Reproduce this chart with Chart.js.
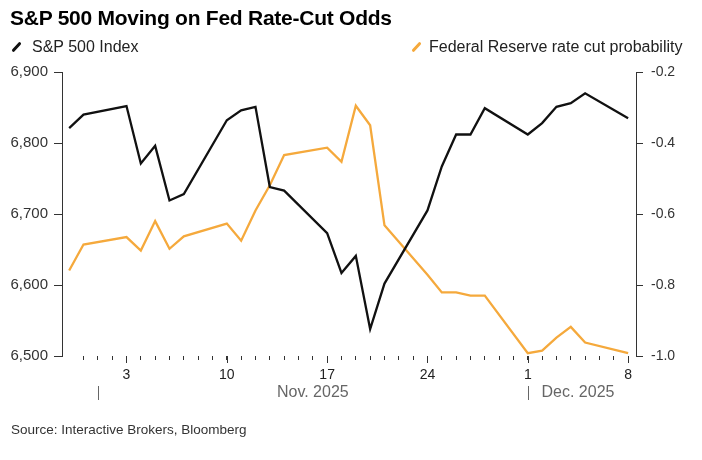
<!DOCTYPE html>
<html>
<head>
<meta charset="utf-8">
<script src="https://cdn.jsdelivr.net/npm/chart.js@4.4.1/dist/chart.umd.min.js"></script>
<style>
  body { margin: 0; background: #fff; font-family: "Liberation Sans", Arial, sans-serif; }
  #wrap { position: relative; width: 702px; height: 460px; overflow: hidden; }
  #chart { position: absolute; left: 0; top: 0; }
  .title { position: absolute; left: 10px; top: 6px; font-size: 21px; font-weight: bold; letter-spacing: -0.25px; color: #000; }
  .leg { position: absolute; top: 38px; font-size: 16px; color: #222; }
  .slash { position: absolute; width: 3px; height: 12px; transform: rotate(42deg); border-radius: 1.5px; }
  .source { position: absolute; left: 11px; top: 422px; font-size: 13.5px; color: #333; }
</style>
</head>
<body>
<div id="wrap">
  <canvas id="chart" width="702" height="460"></canvas>
  <div class="title">S&amp;P 500 Moving on Fed Rate-Cut Odds</div>
  <div class="slash" style="left:15px;top:41px;background:#111"></div>
  <div class="leg" style="left:32px">S&amp;P 500 Index</div>
  <div class="slash" style="left:415px;top:41px;background:#f5a93c"></div>
  <div class="leg" style="left:429px">Federal Reserve rate cut probability</div>
  <div class="source">Source: Interactive Brokers, Bloomberg</div>
</div>
<script>
var dates = ['2025-10-30','2025-10-31','2025-11-03','2025-11-04','2025-11-05','2025-11-06','2025-11-07',
  '2025-11-10','2025-11-11','2025-11-12','2025-11-13','2025-11-14','2025-11-17','2025-11-18','2025-11-19',
  '2025-11-20','2025-11-21','2025-11-24','2025-11-25','2025-11-26','2025-11-27','2025-11-28',
  '2025-12-01','2025-12-02','2025-12-03','2025-12-04','2025-12-05','2025-12-08'];
var spx = [6821, 6840, 6852, 6771, 6796, 6719, 6728,
  6832, 6846, 6851, 6738, 6733, 6673, 6617, 6641,
  6538, 6602, 6705, 6767, 6812, 6812, 6849,
  6812, 6828, 6851, 6856, 6870, 6835];
var fedProb = [-0.759, -0.686, -0.665, -0.703, -0.620, -0.698, -0.663,
  -0.627, -0.675, -0.590, -0.519, -0.434, -0.413, -0.453, -0.295,
  -0.350, -0.632, -0.771, -0.821, -0.821, -0.830, -0.830,
  -0.992, -0.985, -0.948, -0.918, -0.962, -0.992];
var labeledDays = ['2025-11-03','2025-11-10','2025-11-17','2025-11-24','2025-12-01','2025-12-08'];
var months = [['2025-11-01','Nov. 2025'], ['2025-12-01','Dec. 2025']];
var firstTick = '2025-10-31', lastTick = '2025-12-08';

var base = Date.parse('2025-10-30');
function day(d) { return Math.round((Date.parse(d) - base) / 864e5); }

var spxPts = dates.map(function(d, i) { return {x: day(d), y: spx[i]}; });
var fedPts = dates.map(function(d, i) { return {x: day(d), y: fedProb[i]}; });
var majors = labeledDays.map(day);

// longer ticks on labelled days + month row under the axis
var monthRow = {
  id: 'monthRow',
  afterDraw: function(chart) {
    var ctx = chart.ctx, xs = chart.scales.x, bottom = chart.chartArea.bottom;
    ctx.save();
    ctx.strokeStyle = '#333';
    ctx.lineWidth = 1;
    majors.forEach(function(v) {
      var px = Math.round(xs.getPixelForValue(v)) + 0.5;
      ctx.beginPath(); ctx.moveTo(px, bottom); ctx.lineTo(px, bottom + 7); ctx.stroke();
    });
    ctx.strokeStyle = '#666';
    ctx.fillStyle = '#666';
    ctx.font = '16px "Liberation Sans", Arial, sans-serif';
    ctx.textAlign = 'center';
    ctx.textBaseline = 'middle';
    months.forEach(function(m, i) {
      var x0 = xs.getPixelForValue(day(m[0]));
      var x1 = i + 1 < months.length ? xs.getPixelForValue(day(months[i + 1][0])) : xs.getPixelForValue(day(lastTick));
      var px = Math.round(x0) + 0.5;
      ctx.beginPath(); ctx.moveTo(px, bottom + 30); ctx.lineTo(px, bottom + 44); ctx.stroke();
      ctx.fillText(m[1], (x0 + x1) / 2, bottom + 37);
    });
    ctx.restore();
  }
};

new Chart(document.getElementById('chart'), {
  type: 'line',
  data: {
    datasets: [
      { label: 'S&P 500 Index', data: spxPts, yAxisID: 'y', borderColor: '#111', borderWidth: 2.3, pointRadius: 0, tension: 0 },
      { label: 'Federal Reserve rate cut probability', data: fedPts, yAxisID: 'y1', borderColor: '#f5a93c', borderWidth: 2.3, pointRadius: 0, tension: 0 }
    ]
  },
  options: {
    responsive: false,
    animation: false,
    layout: { padding: { top: 72, left: 0, right: 0, bottom: 0 } },
    plugins: { legend: { display: false }, tooltip: { enabled: false } },
    scales: {
      x: {
        type: 'linear',
        min: -0.5,
        max: 39.55,
        afterBuildTicks: function(s) {
          var t = [];
          for (var v = day(firstTick); v <= day(lastTick); v++) t.push({value: v});
          s.ticks = t;
        },
        afterFit: function(s) { s.height = 104; },
        grid: { drawOnChartArea: false, drawTicks: true, tickLength: 4, color: '#333' },
        border: { display: false },
        ticks: {
          autoSkip: false, maxRotation: 0, padding: 7,
          color: '#222', font: { size: 14, family: '"Liberation Sans", Arial, sans-serif' },
          callback: function(v) {
            if (majors.indexOf(v) < 0) return '';
            return String(new Date(base + v * 864e5).getUTCDate());
          }
        }
      },
      y: {
        position: 'left',
        min: 6500, max: 6900,
        afterFit: function(s) { s.width = 62; },
        grid: { drawOnChartArea: false, tickLength: 8, color: '#333' },
        border: { color: '#333', width: 1 },
        ticks: {
          stepSize: 100, padding: 6, color: '#333',
          font: { size: 15, family: '"Liberation Sans", Arial, sans-serif' },
          callback: function(v) { return v.toLocaleString('en-US'); }
        }
      },
      y1: {
        position: 'right',
        min: -1, max: -0.2,
        afterFit: function(s) { s.width = 66; },
        grid: { drawOnChartArea: false, tickLength: 7, color: '#333' },
        border: { color: '#333', width: 1 },
        ticks: {
          stepSize: 0.2, padding: 8, color: '#333',
          font: { size: 14, family: '"Liberation Sans", Arial, sans-serif' },
          callback: function(v) { return v.toFixed(1); }
        }
      }
    }
  },
  plugins: [monthRow]
});
</script>
</body>
</html>
